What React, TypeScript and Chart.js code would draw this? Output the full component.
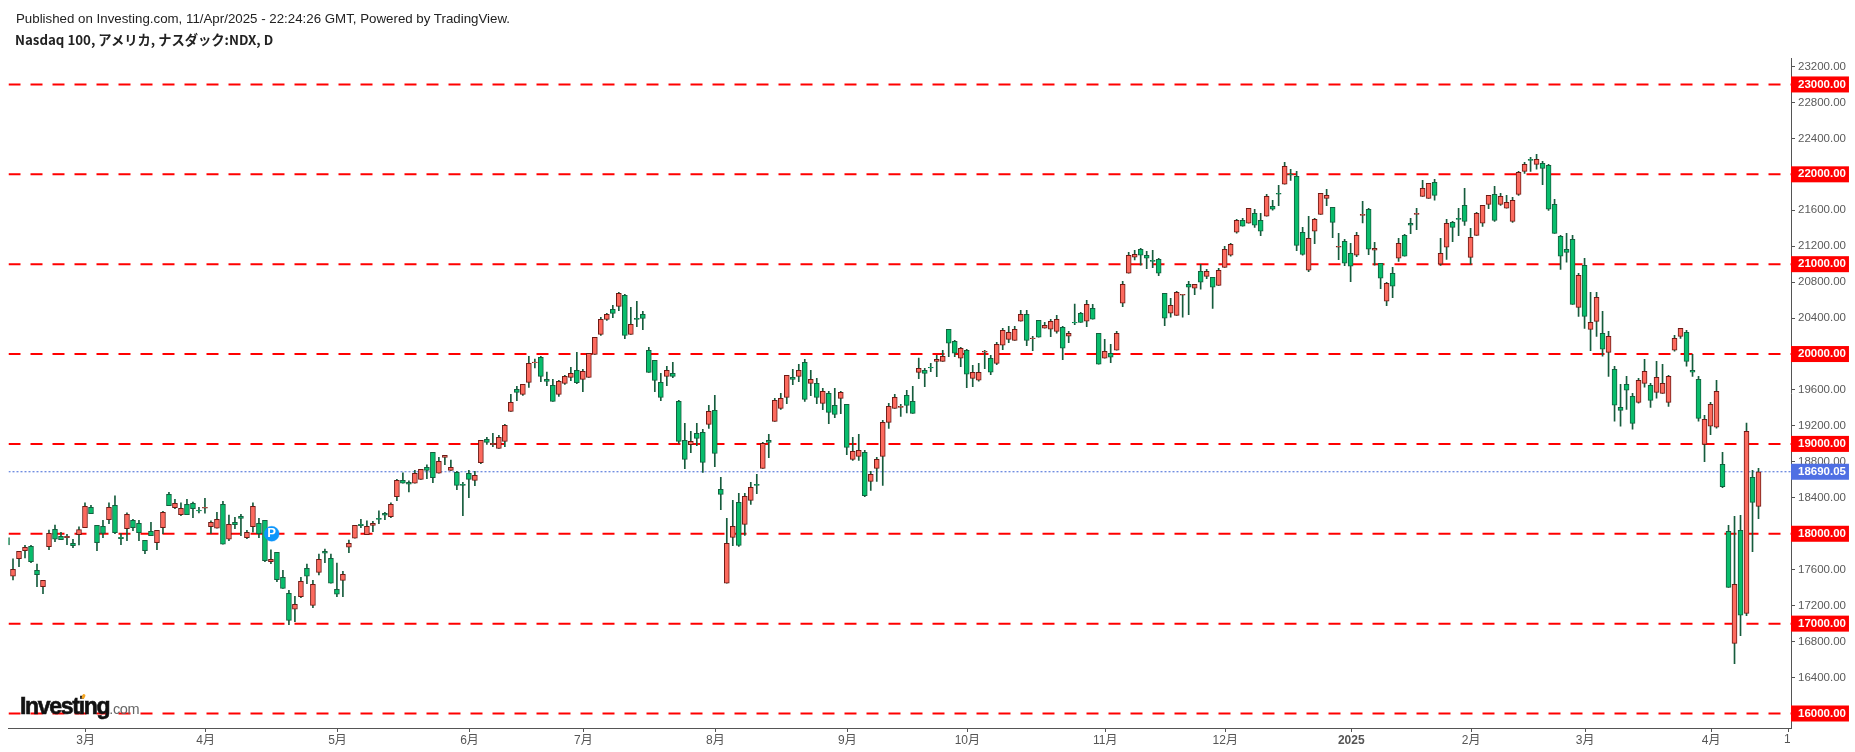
import React, { useEffect, useRef } from "react";
import { Chart, registerables } from "chart.js";

Chart.register(...registerables);

const opens = [
  17957,17527,17724,17813,17861,17594,17412,17857,18050,17972,
  17957,17894,17991,18068,18295,18094,18083,18157,18317,17961,
  18057,18150,18117,17927,18028,17902,18068,18439,18291,18213,
  18328,18339,18261,18284,18080,18061,18328,17939,18128,18195,
  17957,18080,18117,18150,17690,17794,17516,17338,17160,17301,
  17616,17204,17571,17805,17727,17382,17482,17850,17950,18106,
  17991,18094,18172,18228,18191,18413,18595,18573,18562,18606,
  18740,18907,18673,18851,18706,18684,18551,18673,18595,18791,
  19051,18991,18951,19029,19362,19607,19552,19685,19904,19963,
  19718,19652,19552,19674,19741,19819,19718,19741,19997,20219,
  20386,20497,20531,20653,20219,20397,20442,20041,19930,19685,
  19752,19785,19474,19040,18991,19118,19129,19218,19374,18494,
  17449,17960,18350,18105,18372,18550,18728,19040,19251,19396,
  19518,19741,19752,19908,19674,19674,19451,19563,19429,19507,
  19440,18828,18862,18906,18583,18728,18862,19240,19396,19407,
  19540,19474,19796,19819,19852,19919,19919,20276,20142,19953,
  20042,19730,19708,20020,19953,19897,20098,20164,20153,20365,
  20442,20172,20376,20287,20276,20253,20298,20198,20353,20454,
  20365,20509,20231,19953,20009,20042,20565,20899,21077,21166,
  21099,21043,21054,20676,20454,20431,20654,20776,20732,20921,
  20865,20854,20765,20965,21099,21355,21488,21455,21566,21488,
  21533,21644,21789,21889,22004,21978,21355,20932,21366,21555,
  21733,21633,21188,21255,21121,21099,21544,21611,21155,21010,
  20587,20899,21066,21321,21455,21555,21755,21733,21911,20999,
  21188,21466,21510,21655,21076,21321,21455,21666,21777,21666,
  21622,21477,21777,22033,22167,22111,22122,22100,21666,21310,
  21165,21277,20520,20987,20275,20364,20231,20019,19830,19407,
  19663,19530,19463,19674,19652,19574,19563,19463,20042,20197,
  20242,19819,19719,18995,19196,19185,18773,18027,16781,18038,
  17115,18628,18305,
];

const highs = [
  17990,17720,17805,17872,17872,17664,17482,18042,18098,18017,
  17994,17939,18076,18343,18317,18094,18150,18343,18421,18002,
  18232,18161,18150,17927,18128,18039,18250,18462,18384,18343,
  18384,18354,18295,18395,18143,18239,18361,18209,18183,18217,
  18039,18343,18172,18150,17820,17794,17594,17371,17304,17516,
  17664,17482,17775,17831,17775,17675,17583,17931,18094,18161,
  18143,18139,18254,18239,18343,18606,18677,18588,18706,18718,
  18766,18907,18851,18873,18821,18695,18573,18706,18695,19040,
  19073,19118,19095,19218,19552,19641,19663,19974,19945,19974,
  19800,19718,19707,19763,19852,20019,19830,20008,20186,20408,
  20453,20542,20686,20664,20520,20586,20475,20075,19930,19785,
  19863,19908,19485,19229,19140,19229,19162,19429,19540,18628,
  18172,18372,18450,18450,18572,18661,19017,19106,19507,19563,
  19763,19830,19885,19941,19819,19730,19618,19585,19618,19585,
  19440,19073,19106,18928,18695,18851,19262,19451,19552,19440,
  19596,19641,19956,19841,19896,19985,20041,20276,20153,20075,
  20053,19875,19897,20042,19986,20131,20287,20309,20309,20487,
  20487,20198,20376,20353,20387,20431,20309,20253,20557,20465,
  20598,20554,20231,20164,20109,20253,20810,21132,21155,21177,
  21143,21155,21066,20676,20620,20698,20665,20810,20776,20999,
  20943,20854,20954,21199,21232,21500,21511,21622,21611,21566,
  21778,21711,21878,22134,22056,22034,21410,21533,21511,21789,
  21833,21633,21344,21277,21232,21355,21700,21622,21244,21010,
  20799,20965,21288,21333,21511,21622,21933,21900,21944,21288,
  21499,21477,21622,21844,21399,21577,21655,21766,21866,21789,
  21766,21744,22033,22133,22189,22223,22145,22111,21722,21321,
  21343,21321,20898,21065,20687,20687,20476,20253,19864,19663,
  19752,19563,19730,19941,19674,19919,19886,19763,20209,20286,
  20264,19997,19752,19318,19463,19708,18906,18094,18194,18205,
  19233,18706,18728,
];

const lows = [
  17850,17486,17635,17731,17679,17412,17334,17824,17913,17935,
  17879,17846,17876,18068,18224,17813,17957,18113,18002,17879,
  17924,18035,17924,17779,17979,17824,18002,18313,18280,18202,
  18213,18180,18232,18228,18005,18061,17883,17924,18057,17979,
  17946,18017,17957,17690,17668,17468,17393,16989,17022,17290,
  17445,17178,17542,17679,17449,17301,17301,17790,17950,18068,
  17991,18024,18113,18157,18180,18369,18562,18465,18562,18606,
  18614,18569,18673,18769,18706,18491,18202,18402,18536,18780,
  18995,18969,18951,18969,19362,19481,19540,19629,19845,19692,
  19648,19474,19529,19663,19704,19670,19581,19741,19997,20208,
  20375,20405,20483,20171,20219,20304,20271,19796,19581,19481,
  19648,19737,19006,18724,18902,18980,18684,19173,18747,18268,
  17449,17868,17860,17983,18328,18446,18728,18847,19251,19385,
  19448,19659,19692,19474,19537,19448,19381,19225,19292,19336,
  18880,18817,18817,18413,18483,18583,18539,19173,19396,19307,
  19344,19340,19726,19637,19804,19748,19919,19971,19971,19860,
  19626,19638,19697,19838,19771,19882,20049,20127,20153,20365,
  20094,20038,20187,20287,20194,20231,19938,20127,20327,20353,
  20305,20387,19886,19953,19905,20042,20528,20899,21047,20988,
  20951,20962,20873,20316,20409,20431,20409,20439,20661,20721,
  20839,20507,20765,20965,21088,21344,21422,21455,21410,21318,
  21533,21600,21652,21889,21933,21151,21099,20917,21229,21555,
  21652,21296,21051,20984,20806,21084,21459,21106,20988,20728,
  20539,20628,21032,21088,21340,21385,21755,21733,21711,20987,
  21054,21251,21318,21432,20999,21321,21421,21618,21477,21655,
  21622,21466,21766,22011,22033,22056,21885,21599,21343,20943,
  21021,20553,20420,20286,20038,20197,19975,19752,19252,19196,
  19385,19163,19452,19630,19407,19508,19563,19418,20031,20175,
  19864,19752,19252,18802,19103,19174,18513,17404,16555,16866,
  17089,17801,18168,
];

const closes = [
  17876,17605,17805,17850,17690,17545,17482,18005,17939,17935,
  17972,17868,18046,18306,18224,17902,18005,18295,18013,17946,
  18217,18068,18013,17813,17979,18039,18239,18313,18339,18284,
  18213,18280,18254,18295,18128,18161,17883,18106,18102,18172,
  18017,18306,18002,17701,17716,17490,17393,17037,17215,17471,
  17527,17438,17716,17783,17449,17327,17549,17894,18094,18091,
  18083,18117,18161,18206,18328,18595,18562,18551,18673,18718,
  18706,18625,18807,18873,18740,18539,18539,18606,18651,19040,
  19017,19006,19073,19207,19463,19574,19663,19896,19911,19752,
  19696,19474,19696,19752,19785,19681,19807,20008,20186,20386,
  20442,20453,20675,20208,20330,20386,20397,19796,19707,19518,
  19819,19752,19029,18828,19029,19062,18795,19362,18895,18439,
  17894,18083,17871,18417,18517,18539,19006,19017,19485,19507,
  19763,19718,19819,19496,19718,19518,19585,19351,19329,19574,
  18962,18917,18928,18424,18661,18828,19240,19418,19518,19418,
  19429,19340,19841,19785,19845,19941,19974,20120,20009,20064,
  19775,19797,19797,20031,19797,20109,20264,20242,20276,20442,
  20153,20179,20187,20320,20365,20387,20064,20231,20346,20353,
  20554,20387,19886,20031,19964,20231,20776,21099,21110,21099,
  21066,21032,20899,20398,20543,20687,20665,20743,20776,20799,
  20921,20743,20932,21166,21221,21488,21422,21622,21433,21366,
  21755,21611,21778,22089,21997,21210,21110,21288,21500,21789,
  21767,21466,21199,21010,20977,21321,21555,21166,21177,20843,
  20787,20754,21232,21088,21433,21566,21844,21900,21766,21121,
  21455,21410,21499,21477,21299,21566,21655,21766,21488,21755,
  21688,21711,22022,22111,22156,22167,22067,21611,21343,21088,
  21132,20553,20876,20420,20353,20631,20053,20197,19430,19374,
  19597,19229,19708,19808,19485,19741,19674,19752,20175,20286,
  19919,19797,19285,19274,19441,19585,18524,17404,17437,17093,
  19140,18350,18690.05,
];

const levels = [16000, 17000, 18000, 19000, 20000, 21000, 22000, 23000];
const lastPrice = 18690.05;
const priceTicks = [16400, 16800, 17200, 17600, 18400, 18800, 19200, 19600, 20400, 20800, 21200, 21600, 22400, 22800, 23200];
const monthTickBars = [12, 32, 54, 76, 95, 117, 139, 159, 182, 202, 223, 243, 262, 283, 296];
const monthTickLabels = ["3月", "4月", "5月", "6月", "7月", "8月", "9月", "10月", "11月", "12月", "2025", "2月", "3月", "4月", ""];
const pivotMarker = { bar: 43.13, price: 18000, label: "P" };

const FONT = '"Liberation Sans", Arial, "Noto Sans CJK JP", sans-serif';
const firstBar = -1;
const xMin = -0.75;
const xMax = xMin + 1783 / 6;
const yMin = 15838.6;
const yMax = 23294.4;

const UP_FILL = "#fc6a5e";
const UP_EDGE = "#6e1a15";
const DOWN_FILL = "#08bd6c";
const DOWN_EDGE = "#14603f";
const WICK = "#165c3d";

function isTag(value: number | undefined) {
  return value === lastPrice || levels.includes(value as number);
}

export default function App() {
  const ref = useRef<HTMLCanvasElement | null>(null);

  useEffect(() => {
    if (!ref.current) return;
    const barX = (i: number) => i + firstBar;
    const up = (i: number) => closes[i] >= opens[i];

    const levelSets = levels.map((v) => ({
      type: "line" as const,
      data: [{ x: xMin, y: v }, { x: xMax, y: v }],
      borderColor: "#ff0000",
      borderWidth: 2,
      borderDash: [12, 10],
      pointRadius: 0,
      order: 10,
    }));

    const markerLabels = {
      id: "markerLabels",
      afterDatasetsDraw(chart: any) {
        const { ctx, scales } = chart;
        ctx.save();
        ctx.fillStyle = "#ffffff";
        ctx.font = `bold 13px ${FONT}`;
        ctx.textAlign = "center";
        ctx.textBaseline = "middle";
        ctx.fillText(
          pivotMarker.label,
          scales.x.getPixelForValue(pivotMarker.bar),
          scales.y.getPixelForValue(pivotMarker.price)
        );
        ctx.restore();
      },
    };

    const chart = new Chart(ref.current, {
      type: "bar",
      data: {
        datasets: [
          ...levelSets,
          {
            type: "line",
            data: [{ x: xMin, y: lastPrice }, { x: xMax, y: lastPrice }],
            borderColor: "#3f66d6",
            borderWidth: 1,
            borderDash: [2, 2],
            pointRadius: 0,
            order: 9,
          },
          {
            type: "bar",
            data: highs.map((h, i) => ({ x: barX(i), y: [lows[i], h] })),
            backgroundColor: WICK,
            borderWidth: 0,
            barThickness: 1,
            barPercentage: 1,
            categoryPercentage: 1,
            grouped: false,
            order: 5,
          },
          {
            type: "bar",
            data: opens.map((o, i) => ({ x: barX(i), y: [o, closes[i]] })),
            backgroundColor: opens.map((_, i) => (up(i) ? UP_FILL : DOWN_FILL)),
            borderColor: opens.map((_, i) => (up(i) ? UP_EDGE : DOWN_EDGE)),
            borderWidth: 1,
            borderSkipped: false,
            barThickness: 5,
            barPercentage: 1,
            categoryPercentage: 1,
            grouped: false,
            order: 4,
          },
          {
            type: "scatter",
            data: [{ x: pivotMarker.bar, y: pivotMarker.price }],
            backgroundColor: "#0d96fb",
            borderColor: "rgba(13,150,251,0.35)",
            borderWidth: 1,
            pointRadius: 7.5,
            pointHoverRadius: 7.5,
            order: 1,
          },
        ] as any,
      },
      plugins: [markerLabels],
      options: {
        animation: false,
        responsive: false,
        maintainAspectRatio: false,
        events: [],
        layout: { padding: { left: 8, top: 58, right: 0, bottom: 0 } },
        plugins: { legend: { display: false }, tooltip: { enabled: false }, title: { display: false } },
        scales: {
          x: {
            type: "linear",
            min: xMin,
            max: xMax,
            offset: false,
            afterBuildTicks(scale: any) {
              scale.ticks = monthTickBars.map((b) => ({ value: b === 296 ? 296.07 : b + 0.1 }));
            },
            afterFit(scale: any) {
              scale.height = 24;
            },
            grid: { display: true, offset: false, drawOnChartArea: false, drawTicks: true, tickLength: 4, color: "#555555" },
            border: { display: true, color: "#555555", width: 1 },
            ticks: {
              autoSkip: false,
              maxRotation: 0,
              minRotation: 0,
              padding: 1,
              color: "#555555",
              font: (ctx: any) => ({
                family: FONT,
                size: 12,
                weight: ctx.index === 10 ? "bold" : "normal",
              }),
              callback: (_v: any, i: number) => monthTickLabels[i],
            },
          },
          y: {
            type: "linear",
            position: "right",
            min: yMin,
            max: yMax,
            afterBuildTicks(scale: any) {
              scale.ticks = [...priceTicks, ...levels, lastPrice].map((value) => ({ value }));
            },
            afterFit(scale: any) {
              scale.width = 64;
            },
            grid: { display: true, drawOnChartArea: false, drawTicks: true, tickLength: 4, color: "#555555" },
            border: { display: true, color: "#555555", width: 1 },
            ticks: {
              autoSkip: false,
              crossAlign: "near",
              padding: 3,
              color: (ctx: any) => (isTag(ctx.tick?.value) ? "#ffffff" : "#5a5a5a"),
              font: (ctx: any) => ({
                family: FONT,
                size: 11.5,
                weight: isTag(ctx.tick?.value) ? "bold" : "normal",
              }),
              showLabelBackdrop: (ctx: any) => isTag(ctx.tick?.value),
              backdropColor: (ctx: any) => (ctx.tick?.value === lastPrice ? "#4f6fe3" : "#ff0000"),
              backdropPadding: { top: 1.1, bottom: 1.1, left: 7, right: 3 },
              callback: (v: any) => Number(v).toFixed(2),
            },
          },
        },
      } as any,
    });
    return () => chart.destroy();
  }, []);

  return (
    <div style={{ position: "fixed", left: 0, top: 0, width: 1855, height: 752, background: "#ffffff", overflow: "hidden" }}>
      <canvas ref={ref} width={1855} height={752} style={{ position: "absolute", left: 0, top: 0, display: "block" }} />
      <div style={{ position: "absolute", left: 16, top: 11, font: `13.3px/15px ${FONT}`, color: "#222222", whiteSpace: "nowrap" }}>
        Published on Investing.com, 11/Apr/2025 - 22:24:26 GMT, Powered by TradingView.
      </div>
      <div style={{ position: "absolute", left: 15, top: 30, font: 'bold 13.3px/19px "Noto Sans CJK JP", sans-serif', color: "#222222", whiteSpace: "nowrap" }}>
        Nasdaq 100, アメリカ, ナスダック:NDX, D
      </div>
      <div style={{ position: "absolute", left: 20, top: 694, whiteSpace: "nowrap", color: "#111111", font: `bold 23px/24px ${FONT}`, letterSpacing: -1.3, WebkitTextStroke: "0.6px #111111" }}>
        Investing<span style={{ font: `14.5px/24px ${FONT}`, color: "#666666", letterSpacing: -0.4, WebkitTextStroke: "0px" }}>.com</span>
      </div>
      <div style={{ position: "absolute", left: 82, top: 694, width: 3, height: 5, borderRadius: 2, background: "#f5a623", transform: "rotate(25deg)" }} />
      <div style={{ position: "absolute", left: 1784, top: 733, width: 6, overflow: "hidden", font: `12px/13px ${FONT}`, color: "#555555", whiteSpace: "nowrap" }}>
        14
      </div>
    </div>
  );
}
